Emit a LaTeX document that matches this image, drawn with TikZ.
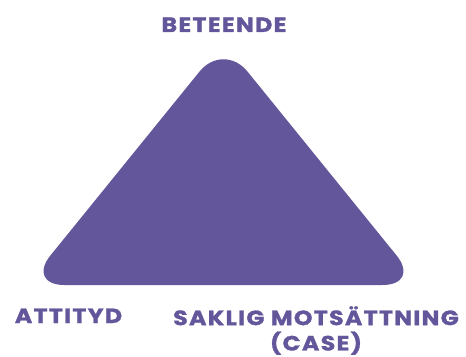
\documentclass[tikz,border=0pt]{standalone}
\usepackage{fontspec}
\setmainfont{Poppins}
\newfontfamily\lblfont{Poppins}[FakeStretch=1.15, FakeBold=1.2, LetterSpace=6]
\usetikzlibrary{positioning}
\definecolor{cTri}{HTML}{63569A}
\tikzset{
  tri/.style={fill=cTri, rounded corners=28.5pt},
  lbl/.style={text=cTri, font=\lblfont\bfseries\fontsize{15.5}{19}\selectfont,
              inner sep=0pt, align=center},
}

\begin{document}
\begin{tikzpicture}[x=0.75pt, y=-0.75pt]
    \useasboundingbox (0,0) rectangle (466,356);

    % triangle
    \coordinate (top)   at (223.5,42);
    \coordinate (left)  at (26.5,285);
    \coordinate (right) at (420.5,285);
    \fill[tri] (top) -- (right) -- (left) -- cycle;

    % corner labels
    \node[lbl, anchor=base]  (beteende) at (224,32)    {BETEENDE};
    \node[lbl, anchor=base]  (attityd)  at (68.5,323)  {ATTITYD};
    \node[lbl, anchor=north] (saklig)   at (316,306)   {SAKLIG MOTSÄTTNING\\(CASE)};
  \end{tikzpicture}
\end{document}
